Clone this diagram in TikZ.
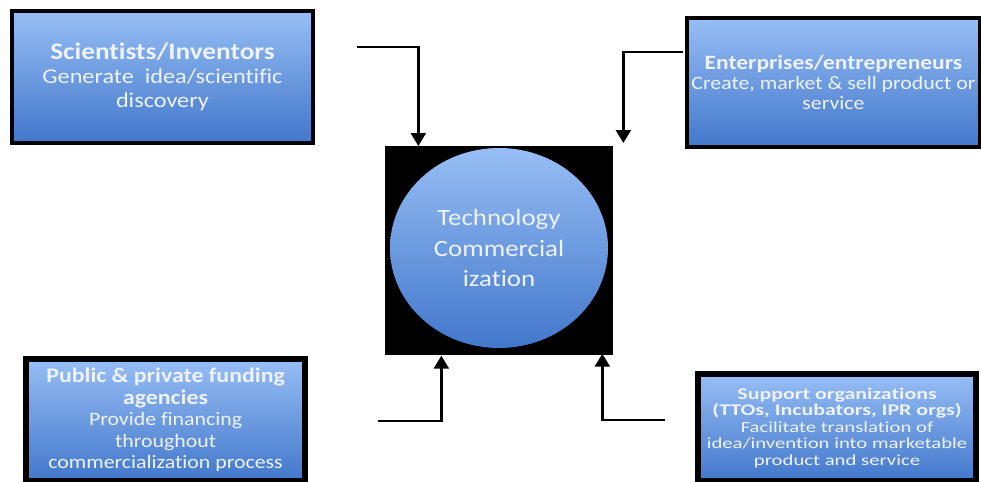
\documentclass[tikz,border=0pt]{standalone}
\usepackage{fontspec}
\setmainfont{Carlito}[Ligatures=NoCommon]
\newfontfamily\boxfont[FakeStretch=1.15, Ligatures=NoCommon]{Carlito}
\newfontfamily\suppfont[FakeStretch=1.34, Ligatures=NoCommon]{Carlito}
\usetikzlibrary{arrows.meta,shapes.geometric}
\definecolor{boxtop}{HTML}{97BEF5}
\definecolor{boxbot}{HTML}{4277CB}
\definecolor{boxtext}{HTML}{EEF3FB}

\begin{document}
\begin{tikzpicture}[
  every node/.style={font=\boxfont, text=boxtext},
  actor/.style={draw=black, top color=boxtop, bottom color=boxbot, line width=2.2pt,
    align=center, anchor=north west, inner sep=0pt},
  lowactor/.style={actor, line width=3.5pt},
  rel/.style={-{Triangle[length=2.6mm, width=3mm]}, line width=1.4pt, black}
]
\useasboundingbox (0,0) rectangle (19.62,-9.64);
\node[actor, minimum width=6.02cm, minimum height=2.64cm, font=\boxfont\fontsize{12}{13.5}\selectfont] (Scientists) at (0.200,-0.180) {{\fontsize{13.5}{13.5}\selectfont\bfseries Scientists/Inventors}\\Generate\ \ idea/scientific\\discovery};
\node[actor, minimum width=5.86cm, minimum height=2.58cm, font=\boxfont\fontsize{10.8}{11.6}\selectfont] (Enterprises) at (13.700,-0.320) {{\fontsize{11.6}{11.6}\selectfont\bfseries Enterprises/entrepreneurs}\\Create, market \& sell product or\\service};
\node[lowactor, minimum width=5.58cm, minimum height=2.44cm, font=\boxfont\fontsize{10.8}{12.2}\selectfont] (Funding) at (0.460,-7.120) {{\fontsize{11.8}{12.2}\selectfont\bfseries Public \& private funding}\\{\fontsize{11.8}{12.2}\selectfont\bfseries agencies}\\Provide financing\\throughout\\commercialization process};
\node[lowactor, minimum width=5.56cm, minimum height=2.14cm, font=\suppfont\fontsize{8.8}{9.4}\selectfont] (Support) at (13.900,-7.420) {{\fontsize{9.3}{9.4}\selectfont\bfseries Support organizations}\\{\fontsize{9.3}{9.4}\selectfont\bfseries (TTOs, Incubators, IPR orgs)}\\Facilitate translation of\\idea/invention into marketable\\product and service};
\node[fill=black, minimum width=4.56cm, minimum height=4.18cm, inner sep=0pt, anchor=north west] (TechFrame) at (7.700,-2.920) {};
\node[ellipse, top color=boxtop, bottom color=boxbot, minimum width=4.36cm, minimum height=4.0cm, align=center,
  font=\boxfont\fontsize{13.3}{17.6}\selectfont] (TechCirc) at (9.980,-4.960) {Technology\\Commercial\\ization};
\coordinate (SciIn) at (7.140,-0.940);
\coordinate (EntIn) at (13.660,-1.040);
\coordinate (FundIn) at (7.560,-8.420);
\coordinate (SuppIn) at (13.300,-8.400);
\draw[rel] (SciIn) -| ([xshift=-1.620cm]TechFrame.north);
\draw[rel] (EntIn) -| ([xshift=2.480cm, yshift=0.060cm]TechFrame.north);
\draw[rel] (FundIn) -| ([xshift=-1.160cm]TechFrame.south);
\draw[rel] (SuppIn) -| ([xshift=2.060cm, yshift=0.040cm]TechFrame.south);
\end{tikzpicture}
\end{document}
